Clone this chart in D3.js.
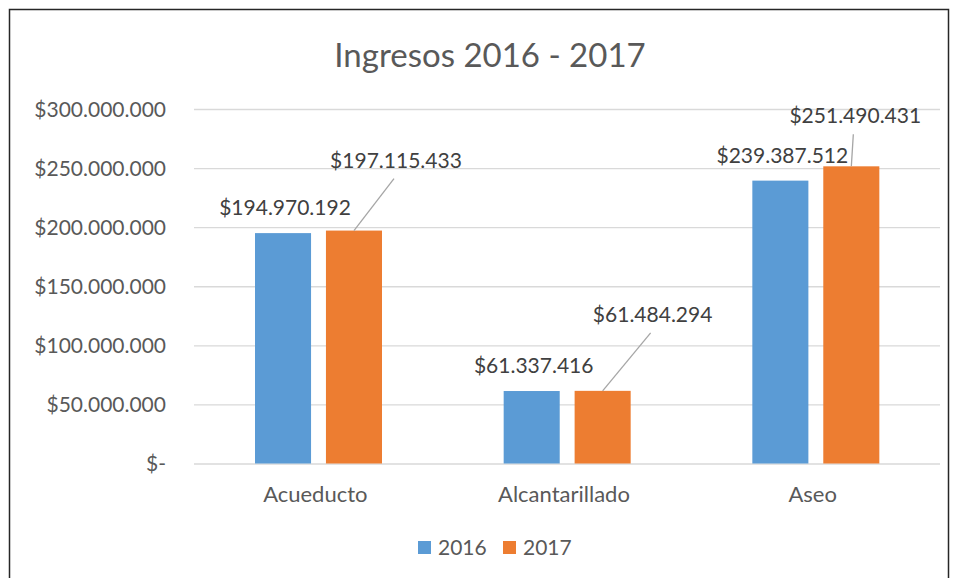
<!DOCTYPE html>
<html>
<head>
<meta charset="utf-8">
<script src="https://cdn.jsdelivr.net/npm/d3@7"></script>
<style>
  body { margin: 0; background: #fff; }
  text { font-family: "Lato", "Open Sans", sans-serif; }
</style>
</head>
<body>
<script>
  // data
  var categories = ["Acueducto", "Alcantarillado", "Aseo"];
  var years = ["2016", "2017"];
  var values2016 = [194970192, 61337416, 239387512];
  var values2017 = [197115433, 61484294, 251490431];
  var yTicks = [0, 50000000, 100000000, 150000000, 200000000, 250000000, 300000000];

  // where the 2017 labels got dragged to (relative to bar top centre)
  var labelShift2017 = [[42, -63], [50, -69], [4, -43]];

  var width = 957, height = 578;
  var colors = {"2016": "#5b9bd5", "2017": "#ed7d31"};

  var loc = d3.formatLocale({decimal: ",", thousands: ".", grouping: [3], currency: ["$", ""]});
  var money = function(v) { return v === 0 ? "$-" : loc.format("$,.0f")(v); };

  var svg = d3.select("body").append("svg")
    .attr("width", width)
    .attr("height", height);

  // chart border
  svg.append("rect")
    .attr("x", 9.5).attr("y", 9.5)
    .attr("width", 939).attr("height", 620)
    .attr("fill", "#fff")
    .attr("stroke", "#262626")
    .attr("stroke-width", 1.5);

  var x0 = d3.scaleBand()
    .domain(categories)
    .range([194, 940]);

  var x1 = d3.scaleBand()
    .domain(years)
    .range([61, 188])
    .paddingInner(0.21);

  var y = d3.scaleLinear()
    .domain([0, 300000000])
    .range([463.5, 109]);

  // gridlines + y labels
  var yAxis = d3.axisLeft(y)
    .tickValues(yTicks)
    .tickSize(-(940 - 194))
    .tickPadding(28)
    .tickFormat(money);

  var ga = svg.append("g")
    .attr("transform", "translate(194,0)")
    .call(yAxis);
  ga.select(".domain").remove();
  ga.selectAll(".tick line").attr("stroke", "#d9d9d9").attr("stroke-width", 1.3);
  ga.selectAll(".tick text")
    .attr("fill", "#595959")
    .style("font-size", "21px")
    .attr("dy", "0.35em");

  // title
  svg.append("text")
    .attr("x", 490).attr("y", 67)
    .attr("text-anchor", "middle")
    .attr("fill", "#595959")
    .style("font-size", "33px")
    .text("Ingresos 2016 - 2017");

  var rows = categories.map(function(c, i) {
    return {cat: c, vals: [
      {year: "2016", v: values2016[i], i: i},
      {year: "2017", v: values2017[i], i: i}
    ]};
  });

  var groups = svg.selectAll(".grp")
    .data(rows)
    .enter().append("g")
    .attr("class", "grp")
    .attr("transform", function(d) { return "translate(" + x0(d.cat) + ",0)"; });

  groups.selectAll("rect")
    .data(function(d) { return d.vals; })
    .enter().append("rect")
    .attr("x", function(d) { return x1(d.year); })
    .attr("width", x1.bandwidth())
    .attr("y", function(d) { return y(d.v); })
    .attr("height", function(d) { return y(0) - y(d.v); })
    .attr("fill", function(d) { return colors[d.year]; });

  // 2016 labels sit right above the bars
  groups.append("text")
    .attr("x", function(d) { return x1("2016") + x1.bandwidth() / 2 + 2; })
    .attr("y", function(d) { return y(d.vals[0].v) - 18; })
    .attr("text-anchor", "middle")
    .attr("fill", "#404040")
    .style("font-size", "21px")
    .text(function(d) { return money(d.vals[0].v); });

  // 2017 labels were moved, with leader lines
  groups.each(function(d, i) {
    var g = d3.select(this);
    var bx = x1("2017") + x1.bandwidth() / 2;
    var by = y(d.vals[1].v);
    var s = labelShift2017[i];
    var lx = bx + s[0], ly = by + s[1];
    g.append("line")
      .attr("x1", bx).attr("y1", by)
      .attr("x2", lx - 2).attr("y2", ly + 11)
      .attr("stroke", "#a6a6a6")
      .attr("stroke-width", 1.3);
    g.append("text")
      .attr("x", lx).attr("y", ly)
      .attr("text-anchor", "middle")
      .attr("fill", "#404040")
      .style("font-size", "21px")
      .text(money(d.vals[1].v));
  });

  // category labels
  svg.selectAll(".cat")
    .data(categories)
    .enter().append("text")
    .attr("class", "cat")
    .attr("x", function(d) { return x0(d) + x0.bandwidth() / 2 - 3; })
    .attr("y", 502)
    .attr("text-anchor", "middle")
    .attr("fill", "#595959")
    .style("font-size", "22px")
    .text(function(d) { return d; });

  // legend
  var legend = svg.selectAll(".leg")
    .data(years)
    .enter().append("g")
    .attr("class", "leg")
    .attr("transform", function(d, i) { return "translate(" + (418 + i * 85) + ",541)"; });

  legend.append("rect")
    .attr("width", 13).attr("height", 13)
    .attr("fill", function(d) { return colors[d]; });

  legend.append("text")
    .attr("x", 20).attr("y", 13.5)
    .attr("fill", "#595959")
    .style("font-size", "21px")
    .text(function(d) { return d; });
</script>
</body>
</html>
